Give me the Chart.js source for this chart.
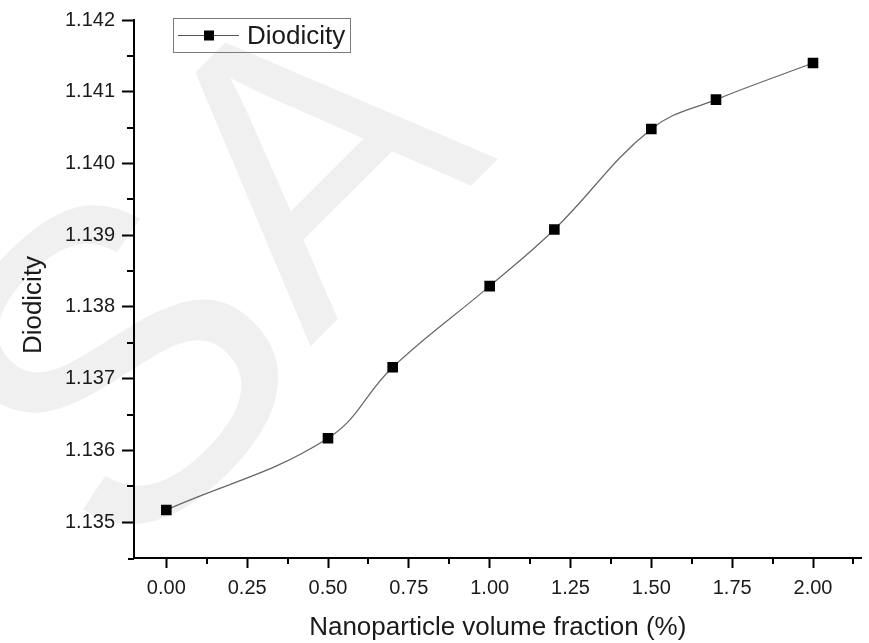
<!DOCTYPE html>
<html>
<head>
<meta charset="utf-8">
<script src="https://cdn.jsdelivr.net/npm/chart.js@4.4.0/dist/chart.umd.min.js"></script>
<style>
  html, body { margin: 0; padding: 0; background: #fff; }
  #wrap { width: 869px; height: 643px; }
</style>
</head>
<body>
<div id="wrap"><canvas id="chart" width="869" height="643"></canvas></div>
<script>
// data
var fractions = [0, 0.5, 0.7, 1.0, 1.2, 1.5, 1.7, 2.0];
var diodicity = [1.13517, 1.13617, 1.13716, 1.13829, 1.13908, 1.14048, 1.14089, 1.14140];
var seriesName = 'Diodicity';

var xTicks = [0, 0.25, 0.5, 0.75, 1.0, 1.25, 1.5, 1.75, 2.0];
var xMinorTicks = [0.125, 0.375, 0.625, 0.875, 1.125, 1.375, 1.625, 1.875, 2.125];
var yTicks = [1.135, 1.136, 1.137, 1.138, 1.139, 1.140, 1.141, 1.142];
var yMinorTicks = [1.1355, 1.1365, 1.1375, 1.1385, 1.1395, 1.1405, 1.1415];

var xTitle = 'Nanoparticle volume fraction (%)';
var yTitle = 'Diodicity';

var FONT = '"Liberation Sans", Arial, sans-serif';
Chart.defaults.font.family = FONT;
Chart.defaults.color = '#1a1a1a';

var points = fractions.map(function (x, i) { return { x: x, y: diodicity[i] }; });

// faint watermark letters behind everything
var watermarkPlugin = {
    id: 'watermark',
    beforeDraw: function (chart) {
        var ctx = chart.ctx;
        ctx.save();
        ctx.fillStyle = '#f0f0f0';
        ctx.textBaseline = 'alphabetic';

        ctx.save();
        ctx.font = '440px ' + FONT;
        ctx.translate(120, 575);
        ctx.rotate(-Math.PI / 4);
        ctx.fillText('S', 0, 0);
        ctx.restore();

        ctx.font = '400px ' + FONT;
        ctx.translate(310, 347);
        ctx.rotate(-Math.PI / 4);
        ctx.fillText('A', 0, 0);
        ctx.restore();
    }
};

// minor ticks, legend box and rotated y title
var extrasPlugin = {
    id: 'extras',
    afterDraw: function (chart) {
        var ctx = chart.ctx;
        var xs = chart.scales.x, ys = chart.scales.y, area = chart.chartArea;

        ctx.save();
        ctx.strokeStyle = '#000';
        ctx.lineWidth = 2;
        ctx.beginPath();
        xMinorTicks.forEach(function (v) {
            var px = Math.round(xs.getPixelForValue(v));
            ctx.moveTo(px, area.bottom);
            ctx.lineTo(px, area.bottom + 6);
        });
        yMinorTicks.forEach(function (v) {
            var py = Math.round(ys.getPixelForValue(v));
            ctx.moveTo(area.left, py);
            ctx.lineTo(area.left - 7, py);
        });
        // x axis runs a little past the y axis
        ctx.moveTo(area.left - 6, area.bottom + 1);
        ctx.lineTo(area.left, area.bottom + 1);
        ctx.stroke();

        // legend
        ctx.strokeStyle = '#7a7a7a';
        ctx.lineWidth = 1;
        ctx.strokeRect(173.5, 18.5, 177, 34);
        ctx.strokeStyle = '#555';
        ctx.lineWidth = 1.2;
        ctx.beginPath();
        ctx.moveTo(178, 35.5);
        ctx.lineTo(239, 35.5);
        ctx.stroke();
        ctx.fillStyle = '#000';
        ctx.fillRect(204, 30.5, 10, 10);
        ctx.fillStyle = '#1a1a1a';
        ctx.font = '26px ' + FONT;
        ctx.textBaseline = 'alphabetic';
        ctx.textAlign = 'left';
        ctx.fillText(seriesName, 247, 44);

        // y axis title
        ctx.translate(40.5, 305);
        ctx.rotate(-Math.PI / 2);
        ctx.textAlign = 'center';
        ctx.fillText(yTitle, 0, 0);
        ctx.restore();
    }
};

var ctx = document.getElementById('chart').getContext('2d');
var chart = new Chart(ctx, {
    type: 'line',
    data: {
        datasets: [{
            label: seriesName,
            data: points,
            borderColor: '#666',
            borderWidth: 1.2,
            tension: 0.4,
            pointStyle: 'rect',
            pointRadius: 7.5,
            pointBorderWidth: 0,
            pointBackgroundColor: '#000',
            pointBorderColor: '#000',
            fill: false
        }]
    },
    options: {
        responsive: false,
        devicePixelRatio: 1,
        animation: false,
        layout: { padding: { top: 20, left: 0, right: 0, bottom: 0 } },
        plugins: {
            legend: { display: false },
            tooltip: { enabled: false }
        },
        scales: {
            x: {
                type: 'linear',
                min: -0.1,
                max: 2.15,
                afterBuildTicks: function (s) {
                    s.ticks = xTicks.map(function (v) { return { value: v }; });
                },
                afterFit: function (s) {
                    s.height = 85;
                    s.paddingLeft = 0; s.paddingRight = 0;
                    s.paddingTop = 0; s.paddingBottom = 0;
                },
                grid: { drawOnChartArea: false, drawTicks: true, tickLength: 10, tickWidth: 2, tickColor: '#000' },
                border: { color: '#000', width: 2 },
                ticks: {
                    padding: 8,
                    autoSkip: false,
                    maxRotation: 0,
                    font: { size: 20 },
                    callback: function (v) { return Number(v).toFixed(2); }
                },
                title: {
                    display: true,
                    text: xTitle,
                    font: { size: 26 },
                    padding: { top: 0, bottom: 0 }
                }
            },
            y: {
                type: 'linear',
                min: 1.1345,
                max: 1.142,
                afterBuildTicks: function (s) {
                    s.ticks = yTicks.map(function (v) { return { value: v }; });
                },
                afterFit: function (s) {
                    s.width = 134;
                    s.paddingLeft = 0; s.paddingRight = 0;
                    s.paddingTop = 0; s.paddingBottom = 0;
                },
                grid: { drawOnChartArea: false, drawTicks: true, tickLength: 12, tickWidth: 2, tickColor: '#000' },
                border: { color: '#000', width: 2 },
                ticks: {
                    padding: 7,
                    autoSkip: false,
                    font: { size: 20 },
                    callback: function (v) { return Number(v).toFixed(3); }
                }
            }
        }
    },
    plugins: [watermarkPlugin, extrasPlugin]
});
</script>
</body>
</html>
